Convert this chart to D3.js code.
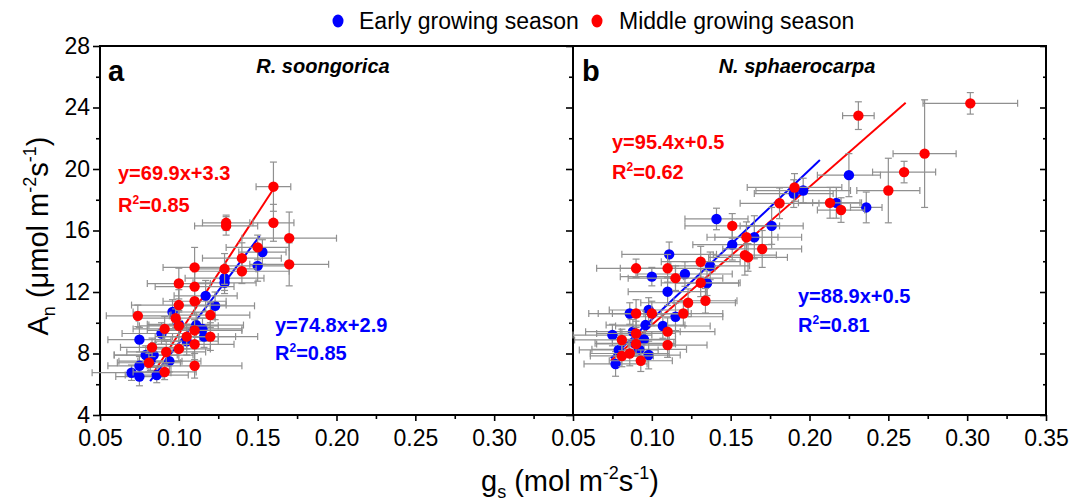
<!DOCTYPE html>
<html>
<head>
<meta charset="utf-8">
<script src="https://cdn.jsdelivr.net/npm/d3@7"></script>
<style>
  body { margin: 0; background: #fff; }
  svg { display: block; font-family: "Liberation Sans", Arial, sans-serif; }
</style>
</head>
<body>
<svg id="chart" width="1075" height="502"></svg>
<script>
// point rows: [gs, An, gs error, An error]
const earlyA = [
  [0.153, 14.6, 0.015, 0.8], [0.150, 13.7, 0.02, 1.0], [0.129, 12.9, 0.025, 0.8],
  [0.129, 12.6, 0.02, 0.7], [0.117, 11.75, 0.02, 1.0], [0.123, 11.1, 0.025, 0.9],
  [0.096, 10.7, 0.025, 0.8], [0.111, 9.85, 0.03, 0.8], [0.116, 9.1, 0.02, 0.7],
  [0.075, 8.9, 0.02, 0.8], [0.089, 9.3, 0.025, 0.7], [0.105, 8.8, 0.02, 0.9],
  [0.079, 7.9, 0.02, 0.6], [0.094, 7.5, 0.02, 0.7], [0.075, 7.2, 0.02, 0.6],
  [0.070, 6.75, 0.025, 0.5], [0.075, 6.5, 0.015, 0.6], [0.086, 6.6, 0.02, 0.5],
  [0.084, 7.9, 0.025, 0.8], [0.082, 7.5, 0.02, 0.6], [0.100, 9.9, 0.02, 0.8],
  [0.115, 9.6, 0.025, 0.7]
];
const middleA = [
  [0.160, 18.85, 0.011, 1.6], [0.130, 16.5, 0.015, 0.5], [0.130, 16.3, 0.02, 0.6],
  [0.160, 16.5, 0.013, 1.2], [0.170, 15.5, 0.03, 1.7], [0.170, 13.8, 0.025, 1.4],
  [0.150, 14.9, 0.02, 0.8], [0.140, 14.2, 0.025, 1.0], [0.129, 13.5, 0.02, 1.0],
  [0.140, 13.35, 0.03, 0.8], [0.110, 13.6, 0.02, 1.3], [0.100, 12.55, 0.02, 1.0],
  [0.110, 12.35, 0.025, 1.2], [0.110, 11.4, 0.02, 0.9], [0.100, 11.15, 0.03, 1.0],
  [0.120, 10.5, 0.025, 0.8], [0.074, 10.45, 0.02, 0.7], [0.100, 9.8, 0.025, 1.0],
  [0.091, 9.6, 0.02, 0.8], [0.110, 9.5, 0.03, 0.7], [0.120, 9.1, 0.03, 0.9],
  [0.110, 8.6, 0.025, 1.0], [0.100, 8.3, 0.02, 0.8], [0.083, 8.4, 0.02, 0.6],
  [0.092, 8.1, 0.025, 0.7], [0.081, 7.4, 0.02, 0.6], [0.110, 7.2, 0.03, 0.8],
  [0.091, 6.8, 0.02, 0.5], [0.098, 10.3, 0.025, 0.6], [0.105, 9.1, 0.02, 0.8]
];
const earlyB = [
  [0.225, 19.6, 0.02, 1.4], [0.236, 17.5, 0.01, 1.0], [0.217, 17.8, 0.015, 1.0],
  [0.196, 18.6, 0.03, 0.8], [0.190, 18.4, 0.025, 0.9], [0.141, 16.75, 0.02, 0.7],
  [0.176, 16.3, 0.02, 1.2], [0.165, 15.56, 0.03, 1.4], [0.151, 15.08, 0.025, 1.0],
  [0.111, 14.45, 0.03, 0.8], [0.137, 13.7, 0.025, 0.9], [0.121, 13.17, 0.03, 0.8],
  [0.100, 13.0, 0.02, 0.6], [0.110, 12.02, 0.025, 0.9], [0.135, 12.57, 0.02, 0.8],
  [0.115, 10.39, 0.03, 0.9], [0.098, 10.83, 0.025, 0.8], [0.086, 10.6, 0.02, 0.7],
  [0.096, 9.85, 0.025, 0.9], [0.107, 9.79, 0.03, 0.8], [0.075, 9.2, 0.025, 0.7],
  [0.088, 9.42, 0.03, 0.8], [0.095, 8.92, 0.02, 0.9], [0.079, 8.23, 0.025, 0.8],
  [0.092, 8.27, 0.03, 0.7], [0.098, 7.9, 0.02, 0.9], [0.077, 7.32, 0.02, 0.8],
  [0.089, 8.66, 0.025, 0.8]
];
const middleB = [
  [0.302, 24.27, 0.03, 0.7], [0.231, 23.47, 0.01, 0.9], [0.273, 21.0, 0.02, 3.5],
  [0.260, 19.8, 0.02, 0.7], [0.250, 18.6, 0.02, 2.1], [0.213, 17.8, 0.02, 1.0],
  [0.220, 17.33, 0.015, 0.8], [0.1905, 18.8, 0.03, 0.9], [0.181, 17.77, 0.025, 1.0],
  [0.151, 16.3, 0.03, 0.8], [0.160, 15.56, 0.02, 1.0], [0.170, 14.8, 0.025, 1.2],
  [0.159, 14.4, 0.02, 1.3], [0.161, 14.25, 0.025, 0.9], [0.131, 13.97, 0.025, 1.0],
  [0.110, 13.54, 0.03, 0.9], [0.090, 13.54, 0.025, 0.6], [0.115, 12.9, 0.03, 0.8],
  [0.131, 12.6, 0.025, 0.9], [0.134, 11.43, 0.02, 0.8], [0.123, 11.3, 0.03, 0.9],
  [0.120, 10.6, 0.025, 0.8], [0.090, 10.6, 0.03, 0.9], [0.100, 10.6, 0.025, 0.8],
  [0.110, 9.42, 0.03, 0.9], [0.110, 8.55, 0.025, 0.8], [0.081, 8.88, 0.03, 0.7],
  [0.090, 8.62, 0.025, 0.8], [0.081, 7.84, 0.02, 0.7], [0.086, 8.0, 0.025, 0.8],
  [0.093, 7.53, 0.02, 0.7], [0.090, 9.3, 0.025, 0.8]
];

// fitted lines as drawn: [[gs start, An start], [gs end, An end]]
const fitEarlyA = [[0.0818, 6.2], [0.1513, 15.64]];
const fitMiddleA = [[0.083, 6.6], [0.160, 18.7]];
const fitEarlyB = [[0.074, 7.69], [0.2066, 20.59]];
const fitMiddleB = [[0.074, 7.53], [0.261, 24.31]];

const xMajorA = [0.05, 0.10, 0.15, 0.20, 0.25, 0.30];
const xMajorB = [0.05, 0.10, 0.15, 0.20, 0.25, 0.30, 0.35];
const xMinor = [0.075, 0.125, 0.175, 0.225, 0.275, 0.325];
const yMajor = [4, 8, 12, 16, 20, 24, 28];
const yMinor = [6, 10, 14, 18, 22, 26];

const blue = "#0000ff", red = "#ff0000", barColor = "#909090";

const svg = d3.select("#chart");
const plotTop = 46, plotBottom = 415;

const y = d3.scaleLinear().domain([4, 28]).range([plotBottom, plotTop]);
const xA = d3.scaleLinear().domain([0.05, 0.35]).range([100, 573]);
const xB = d3.scaleLinear().domain([0.05, 0.35]).range([573, 1046]);

function styleAxis(g, labels) {
    g.select(".domain").remove();
    g.selectAll(".tick line").attr("stroke", "#000").attr("stroke-width", 1.6);
    if (labels) {
        g.selectAll("text").attr("font-size", "23px").attr("fill", "#000");
    } else {
        g.selectAll("text").remove();
    }
}

function drawPanel(x, early, middle, fitE, fitM, xMajor, yLabels) {
    // frame
    svg.append("rect")
        .attr("x", x.range()[0]).attr("y", plotTop)
        .attr("width", x.range()[1] - x.range()[0]).attr("height", plotBottom - plotTop)
        .attr("fill", "none").attr("stroke", "#000").attr("stroke-width", 2);

    // bottom axis
    svg.append("g").attr("transform", `translate(0,${plotBottom})`)
        .call(d3.axisBottom(x).tickValues(xMajor).tickSize(6).tickPadding(9).tickFormat(d3.format(".2f")))
        .call(g => styleAxis(g, true));
    svg.append("g").attr("transform", `translate(0,${plotBottom})`)
        .call(d3.axisBottom(x).tickValues(xMinor).tickSize(4).tickFormat(""))
        .call(g => styleAxis(g, false));

    // left axis (outside ticks)
    const x0 = x.range()[0];
    svg.append("g").attr("transform", `translate(${x0},0)`)
        .call(d3.axisLeft(y).tickValues(yMajor).tickSize(7).tickPadding(3).tickFormat(d3.format("d")))
        .call(g => styleAxis(g, yLabels));
    svg.append("g").attr("transform", `translate(${x0},0)`)
        .call(d3.axisLeft(y).tickValues(yMinor).tickSize(4).tickFormat(""))
        .call(g => styleAxis(g, false));

    // fitted lines
    [[fitE, blue], [fitM, red]].forEach(([pts, c]) => {
        svg.append("path")
            .attr("d", d3.line().x(d => x(d[0])).y(d => y(d[1]))(pts))
            .attr("stroke", c).attr("stroke-width", 2).attr("fill", "none");
    });

    // error bars and points, early first then middle
    [[early, blue], [middle, red]].forEach(([rows, c]) => {
        const g = svg.append("g");
        const cap = 3.5;
        const bars = g.selectAll(".eb").data(rows).enter().append("g")
            .attr("stroke", barColor).attr("stroke-width", 1.2);
        bars.append("line")
            .attr("x1", d => x(d[0] - d[2])).attr("x2", d => x(d[0] + d[2]))
            .attr("y1", d => y(d[1])).attr("y2", d => y(d[1]));
        bars.append("line")
            .attr("x1", d => x(d[0])).attr("x2", d => x(d[0]))
            .attr("y1", d => y(d[1] - d[3])).attr("y2", d => y(d[1] + d[3]));
        [-1, 1].forEach(s => {
            bars.append("line")
                .attr("x1", d => x(d[0] + s * d[2])).attr("x2", d => x(d[0] + s * d[2]))
                .attr("y1", d => y(d[1]) - cap).attr("y2", d => y(d[1]) + cap);
            bars.append("line")
                .attr("x1", d => x(d[0]) - cap).attr("x2", d => x(d[0]) + cap)
                .attr("y1", d => y(d[1] + s * d[3])).attr("y2", d => y(d[1] + s * d[3]));
        });
        g.selectAll("circle").data(rows).enter().append("circle")
            .attr("cx", d => x(d[0])).attr("cy", d => y(d[1]))
            .attr("r", 5.2).attr("fill", c);
    });
}

drawPanel(xA, earlyA, middleA, fitEarlyA, fitMiddleA, xMajorA, true);
drawPanel(xB, earlyB, middleB, fitEarlyB, fitMiddleB, xMajorB, false);

// right axis of panel b, ticks pointing inward
svg.append("g").attr("transform", `translate(1046,0)`)
    .call(d3.axisLeft(y).tickValues(yMajor).tickSize(6).tickFormat(""))
    .call(g => styleAxis(g, false));
svg.append("g").attr("transform", `translate(1046,0)`)
    .call(d3.axisLeft(y).tickValues(yMinor).tickSize(3).tickFormat(""))
    .call(g => styleAxis(g, false));

// panel letters and species
function label(x, yy, txt, size, weight, style, fill, anchor) {
    return svg.append("text").attr("x", x).attr("y", yy)
        .attr("font-size", size).attr("font-weight", weight || "normal")
        .attr("font-style", style || "normal").attr("fill", fill || "#000")
        .attr("text-anchor", anchor || "start").text(txt);
}
label(108, 81, "a", "29px", "bold");
label(582, 81, "b", "29px", "bold");
label(323, 73, "R. soongorica", "20px", "bold", "italic", "#000", "middle");
label(797, 73, "N. sphaerocarpa", "20px", "bold", "italic", "#000", "middle");

// equations
function rsq(x, yy, val, fill) {
    const t = svg.append("text").attr("x", x).attr("y", yy)
        .attr("font-size", "20px").attr("font-weight", "bold").attr("fill", fill);
    t.append("tspan").text("R");
    t.append("tspan").attr("font-size", "12px").attr("dy", -8).text("2");
    t.append("tspan").attr("dy", 8).text("=" + val);
}
label(118, 180, "y=69.9x+3.3", "20px", "bold", "normal", red);
rsq(118, 212, "0.85", red);
label(275, 332, "y=74.8x+2.9", "20px", "bold", "normal", blue);
rsq(275, 360, "0.85", blue);
label(612, 149, "y=95.4x+0.5", "20px", "bold", "normal", red);
rsq(612, 179, "0.62", red);
label(798, 303, "y=88.9x+0.5", "20px", "bold", "normal", blue);
rsq(798, 332, "0.81", blue);

// legend
svg.append("ellipse").attr("cx", 338).attr("cy", 21).attr("rx", 5.5).attr("ry", 6.5).attr("fill", blue);
label(359, 29, "Early growing season", "23px");
svg.append("ellipse").attr("cx", 597).attr("cy", 21).attr("rx", 5.5).attr("ry", 6.5).attr("fill", red);
label(619, 29, "Middle growing season", "23px");

// axis titles
const xt = svg.append("text").attr("x", 570).attr("y", 491)
    .attr("text-anchor", "middle").attr("font-size", "29px");
xt.append("tspan").text("g");
xt.append("tspan").attr("font-size", "18px").attr("dy", 7).text("s");
xt.append("tspan").attr("dy", -7).text(" (mol m");
xt.append("tspan").attr("font-size", "18px").attr("dy", -12).text("-2");
xt.append("tspan").attr("dy", 12).text("s");
xt.append("tspan").attr("font-size", "18px").attr("dy", -12).text("-1");
xt.append("tspan").attr("dy", 12).text(")");

const yt = svg.append("text").attr("transform", "translate(48,236) rotate(-90)")
    .attr("text-anchor", "middle").attr("font-size", "29px");
yt.append("tspan").text("A");
yt.append("tspan").attr("font-size", "18px").attr("dy", 7).text("n");
yt.append("tspan").attr("dy", -7).text(" (\u03bcmol m");
yt.append("tspan").attr("font-size", "18px").attr("dy", -12).text("-2");
yt.append("tspan").attr("dy", 12).text("s");
yt.append("tspan").attr("font-size", "18px").attr("dy", -12).text("-1");
yt.append("tspan").attr("dy", 12).text(")");
</script>
</body>
</html>
